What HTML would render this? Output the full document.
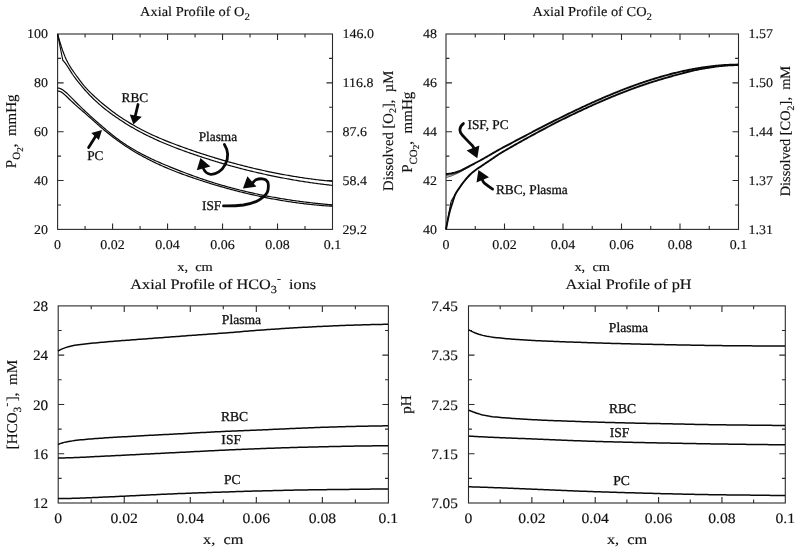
<!DOCTYPE html>
<html lang="en">
<head>
<meta charset="utf-8">
<title>Axial Profiles</title>
<style>
html,body{margin:0;padding:0;background:#fff;}
body{width:800px;height:552px;overflow:hidden;}
svg{display:block;will-change:transform;filter:grayscale(1);}
svg text{font-family:"Liberation Serif","DejaVu Serif",serif;fill:#111;stroke:#111;stroke-width:0.15px;text-rendering:geometricPrecision;}
svg text.a{stroke-width:0.3px;}
</style>
</head>
<body>
<svg width="800" height="552" viewBox="0 0 800 552">
<rect x="0" y="0" width="800" height="552" fill="#ffffff"/>
<rect x="57.6" y="34" width="274.9" height="195.4" fill="none" stroke="#2a2a2a" stroke-width="1.1"/>
<path d="M85.09 229.4 v-3.4 M85.09 34 v3.4 M112.58 229.4 v-6 M112.58 34 v6 M140.07 229.4 v-3.4 M140.07 34 v3.4 M167.56 229.4 v-6 M167.56 34 v6 M195.05 229.4 v-3.4 M195.05 34 v3.4 M222.54 229.4 v-6 M222.54 34 v6 M250.03 229.4 v-3.4 M250.03 34 v3.4 M277.52 229.4 v-6 M277.52 34 v6 M305.01 229.4 v-3.4 M305.01 34 v3.4 M57.6 58.42 h3.4 M332.5 58.42 h-3.4 M57.6 82.85 h6 M332.5 82.85 h-6 M57.6 107.28 h3.4 M332.5 107.28 h-3.4 M57.6 131.7 h6 M332.5 131.7 h-6 M57.6 156.12 h3.4 M332.5 156.12 h-3.4 M57.6 180.55 h6 M332.5 180.55 h-6 M57.6 204.97 h3.4 M332.5 204.97 h-3.4" fill="none" stroke="#2a2a2a" stroke-width="1.1"/>
<text transform="translate(57.6 248.6) scale(1.05 1)" text-anchor="middle" font-size="13.3" >0</text>
<text transform="translate(112.58 248.6) scale(1.05 1)" text-anchor="middle" font-size="13.3" >0.02</text>
<text transform="translate(167.56 248.6) scale(1.05 1)" text-anchor="middle" font-size="13.3" >0.04</text>
<text transform="translate(222.54 248.6) scale(1.05 1)" text-anchor="middle" font-size="13.3" >0.06</text>
<text transform="translate(277.52 248.6) scale(1.05 1)" text-anchor="middle" font-size="13.3" >0.08</text>
<text transform="translate(332.5 248.6) scale(1.05 1)" text-anchor="middle" font-size="13.3" >0.1</text>
<text transform="translate(48 38.4) scale(1.05 1)" text-anchor="end" font-size="13.3" >100</text>
<text transform="translate(48 87.25) scale(1.05 1)" text-anchor="end" font-size="13.3" >80</text>
<text transform="translate(48 136.1) scale(1.05 1)" text-anchor="end" font-size="13.3" >60</text>
<text transform="translate(48 184.95) scale(1.05 1)" text-anchor="end" font-size="13.3" >40</text>
<text transform="translate(48 233.8) scale(1.05 1)" text-anchor="end" font-size="13.3" >20</text>
<text transform="translate(342.5 38.4) scale(1.05 1)" text-anchor="start" font-size="13.3" >146.0</text>
<text transform="translate(342.5 87.25) scale(1.05 1)" text-anchor="start" font-size="13.3" >116.8</text>
<text transform="translate(342.5 136.1) scale(1.05 1)" text-anchor="start" font-size="13.3" >87.6</text>
<text transform="translate(342.5 184.95) scale(1.05 1)" text-anchor="start" font-size="13.3" >58.4</text>
<text transform="translate(342.5 233.8) scale(1.05 1)" text-anchor="start" font-size="13.3" >29.2</text>
<text transform="translate(195 15.5) scale(1.06 1)" text-anchor="middle" font-size="13.6" >Axial Profile of O<tspan dy="4.2" font-size="10.2">2</tspan></text>
<text transform="translate(195 270.5) scale(1.125 1)" text-anchor="middle" font-size="12.8" >x,&#160; cm</text>
<text transform="translate(15.5 131.3) rotate(-90)" text-anchor="middle" font-size="15.0">P<tspan dy="4.6" font-size="11">O</tspan><tspan dy="2.6" font-size="9">2</tspan><tspan dy="-7.2">,&#160; mmHg</tspan></text>
<text transform="translate(392.8 130.8) rotate(-90)" text-anchor="middle" font-size="14.7">Dissolved [O<tspan dy="3.5" font-size="10">2</tspan><tspan dy="-3.5">],&#160; &#181;M</tspan></text>
<path d="M57.6 33.86 L58.85 38.46 L60.11 42.76 L61.36 46.75 L62.62 50.43 L63.87 53.81 L65.13 56.89 L66.38 59.67 L67.63 62.19 L68.89 64.49 L70.14 66.61 L71.4 68.59 L72.65 70.46 L73.91 72.25 L75.16 74 L76.42 75.74 L77.67 77.46 L78.92 79.15 L80.18 80.81 L81.43 82.44 L82.69 84.02 L83.94 85.56 L85.2 87.04 L86.45 88.46 L87.7 89.81 L88.96 91.12 L90.21 92.38 L91.47 93.6 L92.72 94.8 L93.98 95.98 L95.23 97.14 L96.48 98.28 L97.74 99.41 L98.99 100.52 L100.25 101.62 L101.5 102.69 L102.76 103.75 L104.01 104.8 L105.26 105.83 L106.52 106.84 L107.77 107.84 L109.03 108.82 L110.28 109.78 L111.54 110.74 L112.79 111.67 L114.05 112.6 L115.3 113.5 L116.55 114.4 L117.81 115.28 L119.06 116.15 L120.32 117 L121.57 117.84 L122.83 118.67 L124.08 119.48 L125.33 120.28 L126.59 121.07 L127.84 121.85 L129.1 122.62 L130.35 123.37 L131.61 124.11 L132.86 124.85 L134.11 125.57 L135.37 126.27 L136.62 126.97 L137.88 127.66 L139.13 128.34 L140.39 129.01 L141.64 129.67 L142.89 130.31 L144.15 130.95 L145.4 131.58 L146.66 132.2 L147.91 132.82 L149.17 133.42 L150.42 134.01 L151.68 134.6 L152.93 135.18 L154.18 135.75 L155.44 136.32 L156.69 136.87 L157.95 137.42 L159.2 137.97 L160.46 138.5 L161.71 139.03 L162.96 139.56 L164.22 140.07 L165.47 140.59 L166.73 141.09 L167.98 141.59 L169.24 142.09 L170.49 142.58 L171.74 143.06 L173 143.55 L174.25 144.02 L175.51 144.5 L176.76 144.96 L178.02 145.43 L179.27 145.89 L180.53 146.35 L181.78 146.81 L183.03 147.26 L184.29 147.71 L185.54 148.15 L186.8 148.6 L188.05 149.04 L189.31 149.48 L190.56 149.92 L191.81 150.35 L193.07 150.78 L194.32 151.21 L195.58 151.63 L196.83 152.06 L198.09 152.48 L199.34 152.89 L200.59 153.31 L201.85 153.72 L203.1 154.13 L204.36 154.53 L205.61 154.94 L206.87 155.34 L208.12 155.74 L209.37 156.13 L210.63 156.52 L211.88 156.91 L213.14 157.3 L214.39 157.68 L215.65 158.07 L216.9 158.44 L218.16 158.82 L219.41 159.19 L220.66 159.56 L221.92 159.93 L223.17 160.3 L224.43 160.66 L225.68 161.02 L226.94 161.37 L228.19 161.73 L229.44 162.08 L230.7 162.43 L231.95 162.77 L233.21 163.11 L234.46 163.45 L235.72 163.79 L236.97 164.13 L238.22 164.46 L239.48 164.79 L240.73 165.11 L241.99 165.44 L243.24 165.76 L244.5 166.08 L245.75 166.39 L247.01 166.7 L248.26 167.01 L249.51 167.32 L250.77 167.62 L252.02 167.92 L253.28 168.22 L254.53 168.52 L255.79 168.81 L257.04 169.1 L258.29 169.39 L259.55 169.67 L260.8 169.95 L262.06 170.23 L263.31 170.51 L264.57 170.78 L265.82 171.05 L267.07 171.32 L268.33 171.59 L269.58 171.85 L270.84 172.11 L272.09 172.36 L273.35 172.62 L274.6 172.87 L275.85 173.12 L277.11 173.36 L278.36 173.61 L279.62 173.85 L280.87 174.08 L282.13 174.32 L283.38 174.55 L284.64 174.78 L285.89 175 L287.14 175.23 L288.4 175.45 L289.65 175.66 L290.91 175.88 L292.16 176.09 L293.42 176.3 L294.67 176.51 L295.92 176.71 L297.18 176.91 L298.43 177.11 L299.69 177.3 L300.94 177.5 L302.2 177.68 L303.45 177.87 L304.7 178.06 L305.96 178.24 L307.21 178.41 L308.47 178.59 L309.72 178.76 L310.98 178.93 L312.23 179.1 L313.48 179.26 L314.74 179.42 L315.99 179.58 L317.25 179.74 L318.5 179.89 L319.76 180.04 L321.01 180.19 L322.27 180.33 L323.52 180.47 L324.77 180.61 L326.03 180.75 L327.28 180.88 L328.54 181.01 L329.79 181.14 L331.05 181.26 L332.3 181.38" fill="none" stroke="#0a0a0a" stroke-width="1.2" stroke-linejoin="round"/>
<path d="M57.6 34 L62.8 60.25 L64.03 61.6 L65.26 63.16 L66.49 64.9 L67.72 66.76 L68.95 68.69 L70.18 70.65 L71.41 72.59 L72.64 74.47 L73.88 76.25 L75.11 77.94 L76.34 79.56 L77.57 81.14 L78.8 82.69 L80.03 84.2 L81.26 85.69 L82.49 87.15 L83.72 88.58 L84.95 89.98 L86.18 91.35 L87.41 92.69 L88.64 94 L89.87 95.29 L91.1 96.54 L92.33 97.76 L93.56 98.96 L94.8 100.14 L96.03 101.28 L97.26 102.41 L98.49 103.51 L99.72 104.59 L100.95 105.64 L102.18 106.68 L103.41 107.69 L104.64 108.69 L105.87 109.67 L107.1 110.63 L108.33 111.57 L109.56 112.5 L110.79 113.41 L112.02 114.31 L113.25 115.19 L114.48 116.06 L115.72 116.92 L116.95 117.77 L118.18 118.61 L119.41 119.43 L120.64 120.25 L121.87 121.05 L123.1 121.85 L124.33 122.63 L125.56 123.4 L126.79 124.17 L128.02 124.92 L129.25 125.66 L130.48 126.4 L131.71 127.12 L132.94 127.83 L134.17 128.54 L135.41 129.23 L136.64 129.92 L137.87 130.6 L139.1 131.26 L140.33 131.92 L141.56 132.58 L142.79 133.22 L144.02 133.85 L145.25 134.48 L146.48 135.1 L147.71 135.71 L148.94 136.31 L150.17 136.91 L151.4 137.5 L152.63 138.08 L153.86 138.66 L155.09 139.22 L156.33 139.78 L157.56 140.34 L158.79 140.89 L160.02 141.43 L161.25 141.96 L162.48 142.49 L163.71 143.01 L164.94 143.53 L166.17 144.04 L167.4 144.55 L168.63 145.05 L169.86 145.55 L171.09 146.04 L172.32 146.52 L173.55 147 L174.78 147.48 L176.01 147.95 L177.25 148.42 L178.48 148.88 L179.71 149.34 L180.94 149.8 L182.17 150.25 L183.4 150.7 L184.63 151.14 L185.86 151.59 L187.09 152.02 L188.32 152.46 L189.55 152.89 L190.78 153.32 L192.01 153.75 L193.24 154.17 L194.47 154.59 L195.7 155.01 L196.93 155.43 L198.17 155.84 L199.4 156.25 L200.63 156.66 L201.86 157.07 L203.09 157.47 L204.32 157.87 L205.55 158.27 L206.78 158.66 L208.01 159.05 L209.24 159.44 L210.47 159.83 L211.7 160.21 L212.93 160.59 L214.16 160.97 L215.39 161.35 L216.62 161.72 L217.85 162.09 L219.09 162.46 L220.32 162.83 L221.55 163.19 L222.78 163.55 L224.01 163.91 L225.24 164.26 L226.47 164.61 L227.7 164.96 L228.93 165.31 L230.16 165.66 L231.39 166 L232.62 166.34 L233.85 166.67 L235.08 167.01 L236.31 167.34 L237.54 167.67 L238.77 167.99 L240.01 168.32 L241.24 168.64 L242.47 168.96 L243.7 169.27 L244.93 169.59 L246.16 169.9 L247.39 170.21 L248.62 170.51 L249.85 170.81 L251.08 171.11 L252.31 171.41 L253.54 171.71 L254.77 172 L256 172.29 L257.23 172.58 L258.46 172.86 L259.69 173.14 L260.93 173.42 L262.16 173.7 L263.39 173.98 L264.62 174.25 L265.85 174.52 L267.08 174.79 L268.31 175.05 L269.54 175.31 L270.77 175.57 L272 175.83 L273.23 176.08 L274.46 176.34 L275.69 176.58 L276.92 176.83 L278.15 177.08 L279.38 177.32 L280.62 177.56 L281.85 177.79 L283.08 178.03 L284.31 178.26 L285.54 178.49 L286.77 178.72 L288 178.94 L289.23 179.16 L290.46 179.38 L291.69 179.6 L292.92 179.81 L294.15 180.02 L295.38 180.23 L296.61 180.44 L297.84 180.65 L299.07 180.85 L300.3 181.05 L301.54 181.24 L302.77 181.44 L304 181.63 L305.23 181.82 L306.46 182.01 L307.69 182.19 L308.92 182.37 L310.15 182.55 L311.38 182.73 L312.61 182.91 L313.84 183.08 L315.07 183.25 L316.3 183.42 L317.53 183.58 L318.76 183.74 L319.99 183.9 L321.22 184.06 L322.46 184.22 L323.69 184.37 L324.92 184.52 L326.15 184.67 L327.38 184.81 L328.61 184.96 L329.84 185.1 L331.07 185.24 L332.3 185.37" fill="none" stroke="#0a0a0a" stroke-width="1.2" stroke-linejoin="round"/>
<path d="M57.6 87.97 L58.85 88.17 L60.11 88.55 L61.36 89.12 L62.62 89.84 L63.87 90.69 L65.13 91.67 L66.38 92.74 L67.63 93.89 L68.89 95.1 L70.14 96.36 L71.4 97.64 L72.65 98.92 L73.91 100.2 L75.16 101.46 L76.42 102.71 L77.67 103.95 L78.92 105.18 L80.18 106.4 L81.43 107.61 L82.69 108.81 L83.94 110.01 L85.2 111.19 L86.45 112.36 L87.7 113.52 L88.96 114.68 L90.21 115.82 L91.47 116.96 L92.72 118.09 L93.98 119.22 L95.23 120.34 L96.48 121.45 L97.74 122.55 L98.99 123.65 L100.25 124.74 L101.5 125.82 L102.76 126.9 L104.01 127.98 L105.26 129.05 L106.52 130.11 L107.77 131.16 L109.03 132.2 L110.28 133.23 L111.54 134.24 L112.79 135.24 L114.05 136.23 L115.3 137.2 L116.55 138.15 L117.81 139.08 L119.06 140 L120.32 140.9 L121.57 141.78 L122.83 142.65 L124.08 143.5 L125.33 144.33 L126.59 145.15 L127.84 145.96 L129.1 146.75 L130.35 147.53 L131.61 148.29 L132.86 149.05 L134.11 149.78 L135.37 150.51 L136.62 151.22 L137.88 151.92 L139.13 152.61 L140.39 153.29 L141.64 153.96 L142.89 154.62 L144.15 155.26 L145.4 155.9 L146.66 156.53 L147.91 157.15 L149.17 157.76 L150.42 158.36 L151.68 158.95 L152.93 159.53 L154.18 160.11 L155.44 160.68 L156.69 161.25 L157.95 161.8 L159.2 162.35 L160.46 162.9 L161.71 163.44 L162.96 163.97 L164.22 164.51 L165.47 165.03 L166.73 165.55 L167.98 166.07 L169.24 166.59 L170.49 167.1 L171.74 167.61 L173 168.11 L174.25 168.62 L175.51 169.12 L176.76 169.62 L178.02 170.11 L179.27 170.6 L180.53 171.09 L181.78 171.58 L183.03 172.06 L184.29 172.54 L185.54 173.01 L186.8 173.48 L188.05 173.95 L189.31 174.42 L190.56 174.88 L191.81 175.34 L193.07 175.8 L194.32 176.25 L195.58 176.7 L196.83 177.14 L198.09 177.58 L199.34 178.02 L200.59 178.45 L201.85 178.88 L203.1 179.31 L204.36 179.73 L205.61 180.15 L206.87 180.56 L208.12 180.97 L209.37 181.38 L210.63 181.78 L211.88 182.18 L213.14 182.57 L214.39 182.96 L215.65 183.35 L216.9 183.73 L218.16 184.11 L219.41 184.48 L220.66 184.85 L221.92 185.22 L223.17 185.58 L224.43 185.94 L225.68 186.3 L226.94 186.65 L228.19 187 L229.44 187.34 L230.7 187.68 L231.95 188.02 L233.21 188.35 L234.46 188.68 L235.72 189.01 L236.97 189.33 L238.22 189.65 L239.48 189.97 L240.73 190.28 L241.99 190.59 L243.24 190.89 L244.5 191.2 L245.75 191.49 L247.01 191.79 L248.26 192.08 L249.51 192.37 L250.77 192.65 L252.02 192.93 L253.28 193.21 L254.53 193.49 L255.79 193.76 L257.04 194.03 L258.29 194.29 L259.55 194.55 L260.8 194.81 L262.06 195.07 L263.31 195.32 L264.57 195.57 L265.82 195.81 L267.07 196.05 L268.33 196.29 L269.58 196.53 L270.84 196.76 L272.09 197 L273.35 197.22 L274.6 197.45 L275.85 197.67 L277.11 197.89 L278.36 198.1 L279.62 198.32 L280.87 198.53 L282.13 198.73 L283.38 198.94 L284.64 199.14 L285.89 199.34 L287.14 199.53 L288.4 199.73 L289.65 199.92 L290.91 200.1 L292.16 200.29 L293.42 200.47 L294.67 200.65 L295.92 200.83 L297.18 201 L298.43 201.17 L299.69 201.34 L300.94 201.51 L302.2 201.67 L303.45 201.83 L304.7 201.99 L305.96 202.15 L307.21 202.3 L308.47 202.45 L309.72 202.6 L310.98 202.75 L312.23 202.89 L313.48 203.04 L314.74 203.18 L315.99 203.31 L317.25 203.45 L318.5 203.58 L319.76 203.71 L321.01 203.84 L322.27 203.97 L323.52 204.09 L324.77 204.21 L326.03 204.33 L327.28 204.45 L328.54 204.56 L329.79 204.68 L331.05 204.79 L332.3 204.89" fill="none" stroke="#0a0a0a" stroke-width="1.2" stroke-linejoin="round"/>
<path d="M57.6 91.19 L58.85 91.18 L60.11 91.51 L61.36 92.11 L62.62 92.94 L63.87 93.95 L65.13 95.09 L66.38 96.3 L67.63 97.53 L68.89 98.75 L70.14 99.95 L71.4 101.13 L72.65 102.3 L73.91 103.45 L75.16 104.59 L76.42 105.71 L77.67 106.83 L78.92 107.94 L80.18 109.04 L81.43 110.14 L82.69 111.23 L83.94 112.32 L85.2 113.41 L86.45 114.5 L87.7 115.6 L88.96 116.7 L90.21 117.8 L91.47 118.91 L92.72 120.03 L93.98 121.15 L95.23 122.27 L96.48 123.39 L97.74 124.5 L98.99 125.61 L100.25 126.71 L101.5 127.79 L102.76 128.87 L104.01 129.93 L105.26 130.98 L106.52 132.01 L107.77 133.03 L109.03 134.03 L110.28 135.02 L111.54 136 L112.79 136.97 L114.05 137.92 L115.3 138.85 L116.55 139.78 L117.81 140.69 L119.06 141.59 L120.32 142.47 L121.57 143.35 L122.83 144.21 L124.08 145.06 L125.33 145.9 L126.59 146.72 L127.84 147.54 L129.1 148.34 L130.35 149.13 L131.61 149.91 L132.86 150.68 L134.11 151.44 L135.37 152.19 L136.62 152.93 L137.88 153.66 L139.13 154.38 L140.39 155.08 L141.64 155.78 L142.89 156.47 L144.15 157.15 L145.4 157.82 L146.66 158.48 L147.91 159.13 L149.17 159.77 L150.42 160.4 L151.68 161.03 L152.93 161.64 L154.18 162.25 L155.44 162.85 L156.69 163.44 L157.95 164.03 L159.2 164.61 L160.46 165.17 L161.71 165.74 L162.96 166.29 L164.22 166.84 L165.47 167.38 L166.73 167.91 L167.98 168.44 L169.24 168.96 L170.49 169.48 L171.74 169.99 L173 170.49 L174.25 170.99 L175.51 171.48 L176.76 171.97 L178.02 172.45 L179.27 172.92 L180.53 173.39 L181.78 173.86 L183.03 174.32 L184.29 174.78 L185.54 175.23 L186.8 175.68 L188.05 176.12 L189.31 176.56 L190.56 177 L191.81 177.44 L193.07 177.87 L194.32 178.29 L195.58 178.72 L196.83 179.14 L198.09 179.55 L199.34 179.97 L200.59 180.38 L201.85 180.79 L203.1 181.2 L204.36 181.6 L205.61 182 L206.87 182.4 L208.12 182.79 L209.37 183.18 L210.63 183.57 L211.88 183.95 L213.14 184.33 L214.39 184.71 L215.65 185.09 L216.9 185.46 L218.16 185.83 L219.41 186.2 L220.66 186.56 L221.92 186.92 L223.17 187.28 L224.43 187.63 L225.68 187.98 L226.94 188.33 L228.19 188.68 L229.44 189.02 L230.7 189.36 L231.95 189.69 L233.21 190.02 L234.46 190.35 L235.72 190.68 L236.97 191 L238.22 191.32 L239.48 191.64 L240.73 191.96 L241.99 192.27 L243.24 192.57 L244.5 192.88 L245.75 193.18 L247.01 193.48 L248.26 193.78 L249.51 194.07 L250.77 194.36 L252.02 194.64 L253.28 194.93 L254.53 195.2 L255.79 195.48 L257.04 195.75 L258.29 196.03 L259.55 196.29 L260.8 196.56 L262.06 196.82 L263.31 197.07 L264.57 197.33 L265.82 197.58 L267.07 197.83 L268.33 198.07 L269.58 198.32 L270.84 198.55 L272.09 198.79 L273.35 199.02 L274.6 199.25 L275.85 199.48 L277.11 199.7 L278.36 199.92 L279.62 200.13 L280.87 200.35 L282.13 200.56 L283.38 200.76 L284.64 200.97 L285.89 201.17 L287.14 201.36 L288.4 201.56 L289.65 201.75 L290.91 201.93 L292.16 202.12 L293.42 202.3 L294.67 202.48 L295.92 202.65 L297.18 202.82 L298.43 202.99 L299.69 203.15 L300.94 203.31 L302.2 203.47 L303.45 203.63 L304.7 203.78 L305.96 203.93 L307.21 204.07 L308.47 204.21 L309.72 204.35 L310.98 204.48 L312.23 204.62 L313.48 204.74 L314.74 204.87 L315.99 204.99 L317.25 205.11 L318.5 205.22 L319.76 205.34 L321.01 205.44 L322.27 205.55 L323.52 205.65 L324.77 205.75 L326.03 205.84 L327.28 205.93 L328.54 206.02 L329.79 206.11 L331.05 206.19 L332.3 206.27" fill="none" stroke="#0a0a0a" stroke-width="1.2" stroke-linejoin="round"/>
<text x="121.6" y="102.1" text-anchor="start" font-size="13.3" class="a">RBC</text>
<path d="M138 104.5 L135 117" fill="none" stroke="#0a0a0a" stroke-width="2.8" stroke-linecap="round"/>
<polygon points="133.4,124.6 129.8,114.6 141.8,116.8" fill="#0a0a0a"/>
<text x="87.2" y="159.7" text-anchor="start" font-size="13.3" class="a">PC</text>
<path d="M88.6 147.5 L96 135.8" fill="none" stroke="#0a0a0a" stroke-width="2.8" stroke-linecap="round"/>
<polygon points="102,130 91.3,133.1 98.9,139.9" fill="#0a0a0a"/>
<text x="198.7" y="141.4" text-anchor="start" font-size="13.3" class="a">Plasma</text>
<path d="M224.4 144.5 C228.5 151 228.6 158 225.3 164.4 C222 171 216 174.6 210.8 174.3 C207 174 205 172 203.6 169" fill="none" stroke="#0a0a0a" stroke-width="2.8" stroke-linecap="round"/>
<polygon points="200.4,157.9 196.8,170.3 210.4,166.4" fill="#0a0a0a"/>
<text x="202" y="210" text-anchor="start" font-size="13.3" class="a">ISF</text>
<g transform="translate(0 0.8)">
<path d="M223.5 205.1 C231 205.3 237 205 243.4 204.2 C250 203.2 255.5 201.5 259.7 198.8 C264.5 195.6 267.4 193 267.9 189.7 C268.6 186 268.6 184 267.9 181.6 C267 179.4 265 178.2 262.4 178 C260 177.8 257.6 178.2 256 178.9 C254.4 180 253.2 181.3 252.5 182.5" fill="none" stroke="#0a0a0a" stroke-width="2.8" stroke-linecap="round"/>
</g>
<polygon points="242.9,188.6 247.4,176.2 256.4,186.6" fill="#0a0a0a"/>
<rect x="446" y="34" width="292.5" height="195.4" fill="none" stroke="#2a2a2a" stroke-width="1.1"/>
<path d="M475.25 229.4 v-3.4 M475.25 34 v3.4 M504.5 229.4 v-6 M504.5 34 v6 M533.75 229.4 v-3.4 M533.75 34 v3.4 M563 229.4 v-6 M563 34 v6 M592.25 229.4 v-3.4 M592.25 34 v3.4 M621.5 229.4 v-6 M621.5 34 v6 M650.75 229.4 v-3.4 M650.75 34 v3.4 M680 229.4 v-6 M680 34 v6 M709.25 229.4 v-3.4 M709.25 34 v3.4 M446 58.42 h3.4 M738.5 58.42 h-3.4 M446 82.85 h6 M738.5 82.85 h-6 M446 107.28 h3.4 M738.5 107.28 h-3.4 M446 131.7 h6 M738.5 131.7 h-6 M446 156.12 h3.4 M738.5 156.12 h-3.4 M446 180.55 h6 M738.5 180.55 h-6 M446 204.97 h3.4 M738.5 204.97 h-3.4" fill="none" stroke="#2a2a2a" stroke-width="1.1"/>
<text transform="translate(446 248.6) scale(1.05 1)" text-anchor="middle" font-size="13.3" >0</text>
<text transform="translate(504.5 248.6) scale(1.05 1)" text-anchor="middle" font-size="13.3" >0.02</text>
<text transform="translate(563 248.6) scale(1.05 1)" text-anchor="middle" font-size="13.3" >0.04</text>
<text transform="translate(621.5 248.6) scale(1.05 1)" text-anchor="middle" font-size="13.3" >0.06</text>
<text transform="translate(680 248.6) scale(1.05 1)" text-anchor="middle" font-size="13.3" >0.08</text>
<text transform="translate(738.5 248.6) scale(1.05 1)" text-anchor="middle" font-size="13.3" >0.1</text>
<text transform="translate(436.9 38.4) scale(1.05 1)" text-anchor="end" font-size="13.3" >48</text>
<text transform="translate(436.9 87.25) scale(1.05 1)" text-anchor="end" font-size="13.3" >46</text>
<text transform="translate(436.9 136.1) scale(1.05 1)" text-anchor="end" font-size="13.3" >44</text>
<text transform="translate(436.9 184.95) scale(1.05 1)" text-anchor="end" font-size="13.3" >42</text>
<text transform="translate(436.9 233.8) scale(1.05 1)" text-anchor="end" font-size="13.3" >40</text>
<text transform="translate(748.5 38.4) scale(1.05 1)" text-anchor="start" font-size="13.3" >1.57</text>
<text transform="translate(748.5 87.25) scale(1.05 1)" text-anchor="start" font-size="13.3" >1.50</text>
<text transform="translate(748.5 136.1) scale(1.05 1)" text-anchor="start" font-size="13.3" >1.44</text>
<text transform="translate(748.5 184.95) scale(1.05 1)" text-anchor="start" font-size="13.3" >1.37</text>
<text transform="translate(748.5 233.8) scale(1.05 1)" text-anchor="start" font-size="13.3" >1.31</text>
<text transform="translate(592.2 15.5) scale(1.06 1)" text-anchor="middle" font-size="13.6" >Axial Profile of CO<tspan dy="4.2" font-size="10.2">2</tspan></text>
<text transform="translate(592.2 270.5) scale(1.125 1)" text-anchor="middle" font-size="12.8" >x,&#160; cm</text>
<text transform="translate(412.2 132.3) rotate(-90)" text-anchor="middle" font-size="15.0">P<tspan dy="4.6" font-size="11">CO</tspan><tspan dy="2.6" font-size="9">2</tspan><tspan dy="-7.2">,&#160; mmHg</tspan></text>
<text transform="translate(790.3 131.1) rotate(-90)" text-anchor="middle" font-size="14.4">Dissolved [CO<tspan dy="3.5" font-size="10">2</tspan><tspan dy="-3.5">],&#160; mM</tspan></text>
<path d="M446 174 L446.98 173.94 L447.95 173.85 L448.93 173.74 L449.91 173.61 L450.89 173.46 L451.86 173.27 L452.84 173.05 L453.82 172.81 L454.8 172.55 L455.77 172.28 L456.75 171.98 L457.73 171.65 L458.7 171.3 L459.68 170.93 L460.66 170.53 L461.64 170.08 L462.61 169.6 L463.59 169.11 L464.57 168.61 L465.55 168.13 L466.52 167.65 L467.5 167.17 L468.48 166.68 L469.45 166.18 L470.43 165.67 L471.41 165.15 L472.39 164.62 L473.36 164.08 L474.34 163.55 L475.32 163.03 L476.29 162.52 L477.27 162.02 L478.25 161.52 L479.23 161 L480.2 160.48 L481.18 159.94 L482.16 159.39 L483.14 158.84 L484.11 158.28 L485.09 157.71 L486.07 157.15 L487.04 156.58 L488.02 156.01 L489 155.45 L489.98 154.88 L490.95 154.32 L491.93 153.76 L492.91 153.19 L493.89 152.63 L494.86 152.06 L495.84 151.5 L496.82 150.93 L497.79 150.38 L498.77 149.83 L499.75 149.28 L500.73 148.74 L501.7 148.21 L502.68 147.69 L503.66 147.17 L504.64 146.65 L505.61 146.13 L506.59 145.62 L507.57 145.1 L508.54 144.59 L509.52 144.07 L510.5 143.55 L511.48 143.04 L512.45 142.52 L513.43 142 L514.41 141.48 L515.39 140.96 L516.36 140.45 L517.34 139.93 L518.32 139.41 L519.29 138.89 L520.27 138.38 L521.25 137.86 L522.23 137.35 L523.2 136.83 L524.18 136.32 L525.16 135.81 L526.14 135.29 L527.11 134.78 L528.09 134.27 L529.07 133.76 L530.04 133.24 L531.02 132.73 L532 132.22 L532.98 131.72 L533.95 131.21 L534.93 130.7 L535.91 130.19 L536.88 129.68 L537.86 129.18 L538.84 128.67 L539.82 128.17 L540.79 127.67 L541.77 127.16 L542.75 126.66 L543.73 126.16 L544.7 125.66 L545.68 125.16 L546.66 124.66 L547.63 124.16 L548.61 123.66 L549.59 123.17 L550.57 122.67 L551.54 122.18 L552.52 121.68 L553.5 121.19 L554.48 120.7 L555.45 120.21 L556.43 119.72 L557.41 119.23 L558.38 118.74 L559.36 118.26 L560.34 117.77 L561.32 117.29 L562.29 116.81 L563.27 116.32 L564.25 115.84 L565.23 115.36 L566.2 114.88 L567.18 114.41 L568.16 113.93 L569.13 113.46 L570.11 112.98 L571.09 112.51 L572.07 112.04 L573.04 111.57 L574.02 111.1 L575 110.63 L575.98 110.17 L576.95 109.7 L577.93 109.24 L578.91 108.78 L579.88 108.32 L580.86 107.86 L581.84 107.4 L582.82 106.95 L583.79 106.49 L584.77 106.04 L585.75 105.59 L586.73 105.14 L587.7 104.69 L588.68 104.24 L589.66 103.8 L590.63 103.36 L591.61 102.91 L592.59 102.47 L593.57 102.04 L594.54 101.6 L595.52 101.16 L596.5 100.73 L597.47 100.3 L598.45 99.87 L599.43 99.44 L600.41 99.01 L601.38 98.59 L602.36 98.17 L603.34 97.74 L604.32 97.33 L605.29 96.91 L606.27 96.49 L607.25 96.08 L608.22 95.67 L609.2 95.26 L610.18 94.85 L611.16 94.44 L612.13 94.04 L613.11 93.64 L614.09 93.24 L615.07 92.84 L616.04 92.44 L617.02 92.05 L618 91.66 L618.97 91.27 L619.95 90.88 L620.93 90.49 L621.91 90.11 L622.88 89.73 L623.86 89.35 L624.84 88.97 L625.82 88.6 L626.79 88.23 L627.77 87.86 L628.75 87.49 L629.72 87.12 L630.7 86.76 L631.68 86.4 L632.66 86.04 L633.63 85.68 L634.61 85.33 L635.59 84.98 L636.57 84.63 L637.54 84.28 L638.52 83.94 L639.5 83.59 L640.47 83.25 L641.45 82.92 L642.43 82.58 L643.41 82.25 L644.38 81.92 L645.36 81.59 L646.34 81.27 L647.32 80.95 L648.29 80.63 L649.27 80.31 L650.25 80 L651.22 79.69 L652.2 79.38 L653.18 79.07 L654.16 78.77 L655.13 78.47 L656.11 78.17 L657.09 77.87 L658.06 77.58 L659.04 77.29 L660.02 77 L661 76.72 L661.97 76.44 L662.95 76.16 L663.93 75.88 L664.91 75.61 L665.88 75.34 L666.86 75.07 L667.84 74.81 L668.81 74.55 L669.79 74.29 L670.77 74.04 L671.75 73.78 L672.72 73.53 L673.7 73.29 L674.68 73.04 L675.66 72.8 L676.63 72.57 L677.61 72.33 L678.59 72.1 L679.56 71.87 L680.54 71.65 L681.52 71.43 L682.5 71.21 L683.47 71 L684.45 70.78 L685.43 70.57 L686.41 70.37 L687.38 70.17 L688.36 69.97 L689.34 69.77 L690.31 69.58 L691.29 69.39 L692.27 69.21 L693.25 69.02 L694.22 68.84 L695.2 68.67 L696.18 68.5 L697.16 68.33 L698.13 68.16 L699.11 68 L700.09 67.84 L701.06 67.69 L702.04 67.54 L703.02 67.39 L704 67.25 L704.97 67.1 L705.95 66.97 L706.93 66.83 L707.91 66.7 L708.88 66.58 L709.86 66.45 L710.84 66.34 L711.81 66.22 L712.79 66.11 L713.77 66 L714.75 65.9 L715.72 65.79 L716.7 65.7 L717.68 65.6 L718.65 65.51 L719.63 65.43 L720.61 65.35 L721.59 65.28 L722.56 65.2 L723.54 65.13 L724.52 65.06 L725.5 65 L726.47 64.94 L727.45 64.88 L728.43 64.83 L729.4 64.79 L730.38 64.75 L731.36 64.72 L732.34 64.69 L733.31 64.66 L734.29 64.63 L735.27 64.61 L736.25 64.59 L737.22 64.57 L738.2 64.56" fill="none" stroke="#0a0a0a" stroke-width="1.9" stroke-linejoin="round" />
<path d="M446 175.4 L446.15 175.39 L446.3 175.38 L446.45 175.37 L446.6 175.36 L446.75 175.35 L446.91 175.33 L447.06 175.32 L447.21 175.3 L447.36 175.28 L447.51 175.27 L447.66 175.25 L447.81 175.23 L447.96 175.21 L448.11 175.19 L448.26 175.17 L448.42 175.15 L448.57 175.13 L448.72 175.11 L448.87 175.08 L449.02 175.06 L449.17 175.04 L449.32 175.01 L449.47 174.99 L449.62 174.96 L449.77 174.94 L449.92 174.91 L450.08 174.89 L450.23 174.86 L450.38 174.83 L450.53 174.8 L450.68 174.77 L450.83 174.74 L450.98 174.7 L451.13 174.67 L451.28 174.63 L451.43 174.59 L451.58 174.55 L451.74 174.51 L451.89 174.47 L452.04 174.43 L452.19 174.39 L452.34 174.35 L452.49 174.3 L452.64 174.26 L452.79 174.21 L452.94 174.17 L453.09 174.12 L453.25 174.07 L453.4 174.02 L453.55 173.98 L453.7 173.93 L453.85 173.88 L454 173.83 L454.15 173.78 L454.3 173.73 L454.45 173.68 L454.6 173.63 L454.75 173.58 L454.91 173.53 L455.06 173.48 L455.21 173.43 L455.36 173.38 L455.51 173.33 L455.66 173.27 L455.81 173.22 L455.96 173.17 L456.11 173.11 L456.26 173.06 L456.42 173 L456.57 172.94 L456.72 172.89 L456.87 172.83 L457.02 172.77 L457.17 172.71 L457.32 172.65 L457.47 172.59 L457.62 172.53 L457.77 172.47 L457.92 172.4 L458.08 172.34 L458.23 172.28 L458.38 172.21 L458.53 172.15 L458.68 172.08 L458.83 172.02 L458.98 171.95 L459.13 171.89 L459.28 171.82 L459.43 171.75 L459.58 171.69 L459.74 171.62 L459.89 171.55 L460.04 171.48 L460.19 171.41 L460.34 171.34 L460.49 171.27 L460.64 171.2 L460.79 171.13 L460.94 171.05 L461.09 170.98 L461.25 170.9 L461.4 170.83 L461.55 170.75 L461.7 170.67 L461.85 170.59 L462 170.51 L462.15 170.43 L462.3 170.35 L462.45 170.27 L462.6 170.19 L462.75 170.11 L462.91 170.03 L463.06 169.95 L463.21 169.87 L463.36 169.79 L463.51 169.7 L463.66 169.62 L463.81 169.54 L463.96 169.46 L464.11 169.38 L464.26 169.29 L464.42 169.21 L464.57 169.13 L464.72 169.05 L464.87 168.97 L465.02 168.89 L465.17 168.81 L465.32 168.73 L465.47 168.65 L465.62 168.57 L465.77 168.49 L465.92 168.41 L466.08 168.33 L466.23 168.25 L466.38 168.17 L466.53 168.09 L466.68 168 L466.83 167.92 L466.98 167.84 L467.13 167.76 L467.28 167.68 L467.43 167.6 L467.58 167.52 L467.74 167.44 L467.89 167.35 L468.04 167.27 L468.19 167.19 L468.34 167.11 L468.49 167.03 L468.64 166.94 L468.79 166.86 L468.94 166.78 L469.09 166.7 L469.25 166.61 L469.4 166.53 L469.55 166.45 L469.7 166.37 L469.85 166.28 L470 166.2" fill="none" stroke="#0a0a0a" stroke-width="0.9" stroke-linejoin="round" />
<path d="M446 177.4 L446.15 177.37 L446.3 177.34 L446.45 177.31 L446.6 177.28 L446.75 177.25 L446.91 177.22 L447.06 177.19 L447.21 177.15 L447.36 177.12 L447.51 177.08 L447.66 177.04 L447.81 177.01 L447.96 176.97 L448.11 176.93 L448.26 176.89 L448.42 176.85 L448.57 176.81 L448.72 176.77 L448.87 176.73 L449.02 176.69 L449.17 176.65 L449.32 176.6 L449.47 176.56 L449.62 176.51 L449.77 176.47 L449.92 176.42 L450.08 176.38 L450.23 176.33 L450.38 176.28 L450.53 176.23 L450.68 176.18 L450.83 176.13 L450.98 176.07 L451.13 176.02 L451.28 175.96 L451.43 175.91 L451.58 175.85 L451.74 175.79 L451.89 175.73 L452.04 175.67 L452.19 175.61 L452.34 175.55 L452.49 175.49 L452.64 175.42 L452.79 175.36 L452.94 175.3 L453.09 175.23 L453.25 175.17 L453.4 175.1 L453.55 175.04 L453.7 174.97 L453.85 174.9 L454 174.84 L454.15 174.77 L454.3 174.71 L454.45 174.64 L454.6 174.57 L454.75 174.51 L454.91 174.44 L455.06 174.38 L455.21 174.31 L455.36 174.24 L455.51 174.18 L455.66 174.11 L455.81 174.04 L455.96 173.97 L456.11 173.9 L456.26 173.83 L456.42 173.76 L456.57 173.69 L456.72 173.62 L456.87 173.55 L457.02 173.48 L457.17 173.41 L457.32 173.34 L457.47 173.26 L457.62 173.19 L457.77 173.12 L457.92 173.04 L458.08 172.97 L458.23 172.9 L458.38 172.82 L458.53 172.75 L458.68 172.67 L458.83 172.6 L458.98 172.52 L459.13 172.44 L459.28 172.37 L459.43 172.29 L459.58 172.21 L459.74 172.14 L459.89 172.06 L460.04 171.98 L460.19 171.9 L460.34 171.82 L460.49 171.74 L460.64 171.66 L460.79 171.58 L460.94 171.5 L461.09 171.42 L461.25 171.33 L461.4 171.25 L461.55 171.17 L461.7 171.08 L461.85 171 L462 170.91 L462.15 170.83 L462.3 170.74 L462.45 170.65 L462.6 170.57 L462.75 170.48 L462.91 170.39 L463.06 170.31 L463.21 170.22 L463.36 170.13 L463.51 170.05 L463.66 169.96 L463.81 169.87 L463.96 169.79 L464.11 169.7 L464.26 169.62 L464.42 169.53 L464.57 169.44 L464.72 169.36 L464.87 169.27 L465.02 169.19 L465.17 169.1 L465.32 169.02 L465.47 168.94 L465.62 168.85 L465.77 168.77 L465.92 168.68 L466.08 168.6 L466.23 168.51 L466.38 168.43 L466.53 168.34 L466.68 168.26 L466.83 168.18 L466.98 168.09 L467.13 168.01 L467.28 167.92 L467.43 167.84 L467.58 167.75 L467.74 167.67 L467.89 167.58 L468.04 167.5 L468.19 167.41 L468.34 167.33 L468.49 167.25 L468.64 167.16 L468.79 167.08 L468.94 166.99 L469.09 166.91 L469.25 166.82 L469.4 166.74 L469.55 166.65 L469.7 166.57 L469.85 166.48 L470 166.4" fill="none" stroke="#0a0a0a" stroke-width="0.9" stroke-linejoin="round" />
<path d="M446 229.4 L446.98 224.07 L447.95 219.21 L448.93 214.79 L449.91 210.84 L450.89 207.46 L451.86 204.43 L452.84 201.49 L453.82 198.36 L454.8 195.48 L455.77 193.43 L456.75 191.72 L457.73 190.22 L458.7 188.84 L459.68 187.46 L460.66 186.04 L461.64 184.64 L462.61 183.29 L463.59 181.98 L464.57 180.73 L465.55 179.54 L466.52 178.4 L467.5 177.29 L468.48 176.24 L469.45 175.24 L470.43 174.29 L471.41 173.38 L472.39 172.52 L473.36 171.7 L474.34 170.91 L475.32 170.16 L476.29 169.46 L477.27 168.79 L478.25 168.15 L479.23 167.51 L480.2 166.85 L481.18 166.19 L482.16 165.53 L483.14 164.87 L484.11 164.22 L485.09 163.56 L486.07 162.91 L487.04 162.25 L488.02 161.6 L489 160.94 L489.98 160.29 L490.95 159.63 L491.93 158.96 L492.91 158.29 L493.89 157.61 L494.86 156.94 L495.84 156.27 L496.82 155.61 L497.79 154.96 L498.77 154.32 L499.75 153.7 L500.73 153.09 L501.7 152.5 L502.68 151.92 L503.66 151.34 L504.64 150.78 L505.61 150.22 L506.59 149.66 L507.57 149.11 L508.54 148.55 L509.52 147.99 L510.5 147.43 L511.48 146.87 L512.45 146.31 L513.43 145.75 L514.41 145.19 L515.39 144.63 L516.36 144.08 L517.34 143.52 L518.32 142.97 L519.29 142.42 L520.27 141.87 L521.25 141.32 L522.23 140.78 L523.2 140.23 L524.18 139.69 L525.16 139.15 L526.14 138.61 L527.11 138.07 L528.09 137.53 L529.07 137 L530.04 136.46 L531.02 135.93 L532 135.39 L532.98 134.86 L533.95 134.33 L534.93 133.8 L535.91 133.28 L536.88 132.75 L537.86 132.22 L538.84 131.7 L539.82 131.17 L540.79 130.65 L541.77 130.12 L542.75 129.6 L543.73 129.08 L544.7 128.56 L545.68 128.04 L546.66 127.52 L547.63 127 L548.61 126.49 L549.59 125.98 L550.57 125.47 L551.54 124.96 L552.52 124.45 L553.5 123.95 L554.48 123.44 L555.45 122.94 L556.43 122.44 L557.41 121.95 L558.38 121.45 L559.36 120.96 L560.34 120.47 L561.32 119.98 L562.29 119.5 L563.27 119.02 L564.25 118.54 L565.23 118.06 L566.2 117.58 L567.18 117.1 L568.16 116.63 L569.13 116.16 L570.11 115.68 L571.09 115.21 L572.07 114.74 L573.04 114.27 L574.02 113.8 L575 113.33 L575.98 112.87 L576.95 112.4 L577.93 111.94 L578.91 111.48 L579.88 111.02 L580.86 110.56 L581.84 110.1 L582.82 109.65 L583.79 109.19 L584.77 108.74 L585.75 108.29 L586.73 107.84 L587.7 107.39 L588.68 106.94 L589.66 106.5 L590.63 106.06 L591.61 105.61 L592.59 105.17 L593.57 104.74 L594.54 104.3 L595.52 103.86 L596.5 103.43 L597.47 103 L598.45 102.57 L599.43 102.14 L600.41 101.71 L601.38 101.29 L602.36 100.87 L603.34 100.44 L604.32 100.02 L605.29 99.61 L606.27 99.19 L607.25 98.78 L608.22 98.36 L609.2 97.95 L610.18 97.55 L611.16 97.14 L612.13 96.74 L613.11 96.33 L614.09 95.93 L615.07 95.53 L616.04 95.14 L617.02 94.74 L618 94.35 L618.97 93.96 L619.95 93.57 L620.93 93.18 L621.91 92.8 L622.88 92.42 L623.86 92.04 L624.84 91.66 L625.82 91.28 L626.79 90.91 L627.77 90.54 L628.75 90.17 L629.72 89.8 L630.7 89.44 L631.68 89.07 L632.66 88.71 L633.63 88.35 L634.61 88 L635.59 87.64 L636.57 87.29 L637.54 86.94 L638.52 86.6 L639.5 86.25 L640.47 85.91 L641.45 85.57 L642.43 85.24 L643.41 84.9 L644.38 84.57 L645.36 84.24 L646.34 83.91 L647.32 83.59 L648.29 83.26 L649.27 82.94 L650.25 82.63 L651.22 82.32 L652.2 82.01 L653.18 81.7 L654.16 81.39 L655.13 81.09 L656.11 80.79 L657.09 80.49 L658.06 80.19 L659.04 79.9 L660.02 79.6 L661 79.31 L661.97 79.02 L662.95 78.73 L663.93 78.44 L664.91 78.16 L665.88 77.87 L666.86 77.59 L667.84 77.31 L668.81 77.03 L669.79 76.76 L670.77 76.48 L671.75 76.21 L672.72 75.94 L673.7 75.67 L674.68 75.4 L675.66 75.14 L676.63 74.88 L677.61 74.61 L678.59 74.35 L679.56 74.09 L680.54 73.83 L681.52 73.57 L682.5 73.3 L683.47 73.04 L684.45 72.78 L685.43 72.52 L686.41 72.26 L687.38 72.01 L688.36 71.76 L689.34 71.53 L690.31 71.29 L691.29 71.06 L692.27 70.84 L693.25 70.62 L694.22 70.4 L695.2 70.19 L696.18 69.98 L697.16 69.77 L698.13 69.57 L699.11 69.38 L700.09 69.19 L701.06 69.01 L702.04 68.84 L703.02 68.67 L704 68.5 L704.97 68.33 L705.95 68.17 L706.93 68.02 L707.91 67.86 L708.88 67.71 L709.86 67.56 L710.84 67.41 L711.81 67.26 L712.79 67.11 L713.77 66.95 L714.75 66.81 L715.72 66.66 L716.7 66.53 L717.68 66.4 L718.65 66.28 L719.63 66.16 L720.61 66.06 L721.59 65.96 L722.56 65.87 L723.54 65.78 L724.52 65.69 L725.5 65.6 L726.47 65.53 L727.45 65.46 L728.43 65.39 L729.4 65.34 L730.38 65.3 L731.36 65.25 L732.34 65.21 L733.31 65.18 L734.29 65.14 L735.27 65.11 L736.25 65.09 L737.22 65.07 L738.2 65.06" fill="none" stroke="#0a0a0a" stroke-width="1.9" stroke-linejoin="round" />
<path d="M446 229.4 L451 201.5" fill="none" stroke="#0a0a0a" stroke-width="1.1" stroke-linejoin="round"/>
<path d="M451 201.5 L451.12 201.29 L451.24 201.08 L451.36 200.88 L451.48 200.67 L451.6 200.46 L451.72 200.26 L451.84 200.05 L451.96 199.85 L452.08 199.64 L452.19 199.44 L452.31 199.23 L452.43 199.03 L452.55 198.82 L452.67 198.62 L452.79 198.42 L452.91 198.22 L453.03 198.02 L453.15 197.81 L453.27 197.61 L453.39 197.41 L453.51 197.21 L453.63 197.02 L453.75 196.82 L453.87 196.62 L453.99 196.42 L454.11 196.22 L454.23 196.03 L454.35 195.83 L454.47 195.63 L454.58 195.44 L454.7 195.24 L454.82 195.04 L454.94 194.85 L455.06 194.65 L455.18 194.45 L455.3 194.26 L455.42 194.06 L455.54 193.87 L455.66 193.67 L455.78 193.48 L455.9 193.29 L456.02 193.09 L456.14 192.9 L456.26 192.71 L456.38 192.52 L456.5 192.33 L456.62 192.14 L456.74 191.95 L456.86 191.76 L456.97 191.57 L457.09 191.39 L457.21 191.2 L457.33 191.02 L457.45 190.83 L457.57 190.65 L457.69 190.47 L457.81 190.28 L457.93 190.1 L458.05 189.92 L458.17 189.75 L458.29 189.57 L458.41 189.39 L458.53 189.21 L458.65 189.03 L458.77 188.86 L458.89 188.68 L459.01 188.5 L459.13 188.33 L459.25 188.15 L459.36 187.97 L459.48 187.8 L459.6 187.63 L459.72 187.45 L459.84 187.28 L459.96 187.1 L460.08 186.93 L460.2 186.76 L460.32 186.59 L460.44 186.42 L460.56 186.25 L460.68 186.08 L460.8 185.91 L460.92 185.74 L461.04 185.57 L461.16 185.4 L461.28 185.23 L461.4 185.07 L461.52 184.9 L461.64 184.74 L461.75 184.57 L461.87 184.41 L461.99 184.24 L462.11 184.08 L462.23 183.92 L462.35 183.76 L462.47 183.59 L462.59 183.43 L462.71 183.27 L462.83 183.12 L462.95 182.96 L463.07 182.8 L463.19 182.64 L463.31 182.49 L463.43 182.33 L463.55 182.18 L463.67 182.02 L463.79 181.87 L463.91 181.72 L464.03 181.57 L464.14 181.42 L464.26 181.27 L464.38 181.12 L464.5 180.97 L464.62 180.82 L464.74 180.67 L464.86 180.52 L464.98 180.38 L465.1 180.23 L465.22 180.08 L465.34 179.94 L465.46 179.79 L465.58 179.65 L465.7 179.51 L465.82 179.36 L465.94 179.22 L466.06 179.08 L466.18 178.93 L466.3 178.79 L466.42 178.65 L466.53 178.51 L466.65 178.37 L466.77 178.23 L466.89 178.1 L467.01 177.96 L467.13 177.82 L467.25 177.68 L467.37 177.55 L467.49 177.41 L467.61 177.28 L467.73 177.14 L467.85 177.01 L467.97 176.87 L468.09 176.74 L468.21 176.61 L468.33 176.48 L468.45 176.35 L468.57 176.22 L468.69 176.09 L468.81 175.96 L468.92 175.83 L469.04 175.7 L469.16 175.57 L469.28 175.45 L469.4 175.32 L469.52 175.2 L469.64 175.07 L469.76 174.95 L469.88 174.82 L470 174.7" fill="none" stroke="#0a0a0a" stroke-width="1.1" stroke-linejoin="round" />
<text x="467.5" y="128.6" text-anchor="start" font-size="13.3" class="a">ISF, PC</text>
<path d="M463.4 123.6 C461.2 125.2 460 127.4 459.9 129.8 C459.8 132 460.8 133.6 462.4 135.2 C464 136.9 465.6 138.6 467 140.1 C468.8 142 470.6 143.8 472 145.2 C473 146.4 473.6 147.4 474 148.4" fill="none" stroke="#0a0a0a" stroke-width="2.8" stroke-linecap="round"/>
<polygon points="477.3,158.2 466.6,150.4 479.4,145.6" fill="#0a0a0a"/>
<text x="496" y="193.6" text-anchor="start" font-size="13.3" class="a">RBC, Plasma</text>
<path d="M492.6 189.1 C489.6 187.1 486.6 185 484.7 183.4 C483.5 182.3 482.9 181.2 482.5 180.2" fill="none" stroke="#0a0a0a" stroke-width="2.8" stroke-linecap="round"/>
<polygon points="478.4,169.9 476.5,182.6 489,177.3" fill="#0a0a0a"/>
<rect x="58.2" y="305.9" width="330.2" height="197.1" fill="none" stroke="#2a2a2a" stroke-width="1.1"/>
<path d="M91.22 503 v-3.4 M91.22 305.9 v3.4 M124.24 503 v-6 M124.24 305.9 v6 M157.26 503 v-3.4 M157.26 305.9 v3.4 M190.28 503 v-6 M190.28 305.9 v6 M223.3 503 v-3.4 M223.3 305.9 v3.4 M256.32 503 v-6 M256.32 305.9 v6 M289.34 503 v-3.4 M289.34 305.9 v3.4 M322.36 503 v-6 M322.36 305.9 v6 M355.38 503 v-3.4 M355.38 305.9 v3.4 M58.2 330.54 h3.4 M388.4 330.54 h-3.4 M58.2 355.17 h6 M388.4 355.17 h-6 M58.2 379.81 h3.4 M388.4 379.81 h-3.4 M58.2 404.45 h6 M388.4 404.45 h-6 M58.2 429.09 h3.4 M388.4 429.09 h-3.4 M58.2 453.73 h6 M388.4 453.73 h-6 M58.2 478.36 h3.4 M388.4 478.36 h-3.4" fill="none" stroke="#2a2a2a" stroke-width="1.1"/>
<text transform="translate(58.2 522.6) scale(1.09 1)" text-anchor="middle" font-size="14.4" >0</text>
<text transform="translate(124.24 522.6) scale(1.09 1)" text-anchor="middle" font-size="14.4" >0.02</text>
<text transform="translate(190.28 522.6) scale(1.09 1)" text-anchor="middle" font-size="14.4" >0.04</text>
<text transform="translate(256.32 522.6) scale(1.09 1)" text-anchor="middle" font-size="14.4" >0.06</text>
<text transform="translate(322.36 522.6) scale(1.09 1)" text-anchor="middle" font-size="14.4" >0.08</text>
<text transform="translate(388.4 522.6) scale(1.09 1)" text-anchor="middle" font-size="14.4" >0.1</text>
<text transform="translate(48.2 311.1) scale(1.05 1)" text-anchor="end" font-size="14.5" >28</text>
<text transform="translate(48.2 360.37) scale(1.05 1)" text-anchor="end" font-size="14.5" >24</text>
<text transform="translate(48.2 409.65) scale(1.05 1)" text-anchor="end" font-size="14.5" >20</text>
<text transform="translate(48.2 458.93) scale(1.05 1)" text-anchor="end" font-size="14.5" >16</text>
<text transform="translate(48.2 508.2) scale(1.05 1)" text-anchor="end" font-size="14.5" >12</text>
<text transform="translate(223.2 288.6) scale(1.13 1)" text-anchor="middle" font-size="14.4" >Axial Profile of HCO<tspan dy="4.4" font-size="10.8">3</tspan><tspan dy="-11.2" font-size="10.5">-</tspan><tspan dy="6.8">&#160; ions</tspan></text>
<text transform="translate(223.2 543.5) scale(1.155 1)" text-anchor="middle" font-size="14.1" >x,&#160; cm</text>
<text transform="translate(16.6 404.6) rotate(-90)" text-anchor="middle" font-size="15.0">[HCO<tspan dy="4.6" font-size="11.2">3</tspan><tspan dy="-11" font-size="11" dx="0.5">-</tspan><tspan dy="6.4" dx="1.5">],&#160; mM</tspan></text>
<path d="M58 351.1 L60.08 349.88 L62.15 348.9 L64.23 348.1 L66.3 347.4 L68.38 346.76 L70.45 346.2 L72.53 345.73 L74.6 345.33 L76.68 344.98 L78.75 344.67 L80.83 344.4 L82.91 344.15 L84.98 343.92 L87.06 343.71 L89.13 343.5 L91.21 343.31 L93.28 343.11 L95.36 342.91 L97.43 342.72 L99.51 342.52 L101.58 342.34 L103.66 342.15 L105.74 341.97 L107.81 341.79 L109.89 341.61 L111.96 341.43 L114.04 341.26 L116.11 341.09 L118.19 340.92 L120.26 340.76 L122.34 340.6 L124.42 340.44 L126.49 340.28 L128.57 340.13 L130.64 339.98 L132.72 339.83 L134.79 339.67 L136.87 339.52 L138.94 339.36 L141.02 339.2 L143.09 339.05 L145.17 338.89 L147.25 338.73 L149.32 338.58 L151.4 338.42 L153.47 338.26 L155.55 338.1 L157.62 337.95 L159.7 337.79 L161.77 337.63 L163.85 337.48 L165.92 337.32 L168 337.16 L170.08 337.01 L172.15 336.85 L174.23 336.7 L176.3 336.54 L178.38 336.39 L180.45 336.23 L182.53 336.08 L184.6 335.93 L186.68 335.77 L188.75 335.62 L190.83 335.47 L192.91 335.32 L194.98 335.17 L197.06 335.02 L199.13 334.87 L201.21 334.72 L203.28 334.57 L205.36 334.42 L207.43 334.27 L209.51 334.12 L211.58 333.97 L213.66 333.82 L215.74 333.67 L217.81 333.52 L219.89 333.36 L221.96 333.21 L224.04 333.05 L226.11 332.89 L228.19 332.73 L230.26 332.57 L232.34 332.4 L234.42 332.23 L236.49 332.06 L238.57 331.89 L240.64 331.72 L242.72 331.55 L244.79 331.37 L246.87 331.2 L248.94 331.03 L251.02 330.86 L253.09 330.69 L255.17 330.52 L257.25 330.36 L259.32 330.2 L261.4 330.04 L263.47 329.88 L265.55 329.73 L267.62 329.59 L269.7 329.44 L271.77 329.3 L273.85 329.16 L275.92 329.02 L278 328.89 L280.08 328.75 L282.15 328.61 L284.23 328.48 L286.3 328.35 L288.38 328.22 L290.45 328.09 L292.53 327.97 L294.6 327.84 L296.68 327.72 L298.75 327.6 L300.83 327.48 L302.91 327.37 L304.98 327.25 L307.06 327.14 L309.13 327.04 L311.21 326.93 L313.28 326.83 L315.36 326.72 L317.43 326.62 L319.51 326.52 L321.58 326.42 L323.66 326.32 L325.74 326.22 L327.81 326.13 L329.89 326.03 L331.96 325.94 L334.04 325.85 L336.11 325.76 L338.19 325.67 L340.26 325.58 L342.34 325.5 L344.42 325.42 L346.49 325.34 L348.57 325.27 L350.64 325.2 L352.72 325.13 L354.79 325.06 L356.87 325 L358.94 324.94 L361.02 324.89 L363.09 324.83 L365.17 324.77 L367.25 324.72 L369.32 324.67 L371.4 324.62 L373.47 324.57 L375.55 324.53 L377.62 324.48 L379.7 324.44 L381.77 324.4 L383.85 324.37 L385.92 324.33 L388 324.3" fill="none" stroke="#0a0a0a" stroke-width="1.5" stroke-linejoin="round" />
<path d="M58 444.5 L60.08 443.62 L62.15 442.93 L64.23 442.36 L66.3 441.91 L68.38 441.52 L70.45 441.19 L72.53 440.87 L74.6 440.59 L76.68 440.32 L78.75 440.08 L80.83 439.86 L82.91 439.65 L84.98 439.45 L87.06 439.26 L89.13 439.08 L91.21 438.91 L93.28 438.75 L95.36 438.59 L97.43 438.44 L99.51 438.29 L101.58 438.15 L103.66 438.01 L105.74 437.87 L107.81 437.74 L109.89 437.61 L111.96 437.48 L114.04 437.35 L116.11 437.23 L118.19 437.11 L120.26 436.99 L122.34 436.87 L124.42 436.75 L126.49 436.63 L128.57 436.51 L130.64 436.39 L132.72 436.28 L134.79 436.16 L136.87 436.04 L138.94 435.93 L141.02 435.81 L143.09 435.69 L145.17 435.58 L147.25 435.47 L149.32 435.36 L151.4 435.25 L153.47 435.14 L155.55 435.03 L157.62 434.92 L159.7 434.81 L161.77 434.71 L163.85 434.6 L165.92 434.49 L168 434.39 L170.08 434.28 L172.15 434.17 L174.23 434.07 L176.3 433.96 L178.38 433.85 L180.45 433.74 L182.53 433.63 L184.6 433.52 L186.68 433.41 L188.75 433.3 L190.83 433.19 L192.91 433.07 L194.98 432.96 L197.06 432.84 L199.13 432.73 L201.21 432.62 L203.28 432.5 L205.36 432.39 L207.43 432.28 L209.51 432.17 L211.58 432.06 L213.66 431.95 L215.74 431.85 L217.81 431.74 L219.89 431.64 L221.96 431.54 L224.04 431.44 L226.11 431.34 L228.19 431.25 L230.26 431.16 L232.34 431.07 L234.42 430.98 L236.49 430.89 L238.57 430.81 L240.64 430.72 L242.72 430.64 L244.79 430.55 L246.87 430.47 L248.94 430.39 L251.02 430.31 L253.09 430.22 L255.17 430.14 L257.25 430.06 L259.32 429.98 L261.4 429.89 L263.47 429.81 L265.55 429.72 L267.62 429.64 L269.7 429.55 L271.77 429.46 L273.85 429.37 L275.92 429.27 L278 429.18 L280.08 429.09 L282.15 428.99 L284.23 428.89 L286.3 428.8 L288.38 428.7 L290.45 428.61 L292.53 428.51 L294.6 428.42 L296.68 428.32 L298.75 428.23 L300.83 428.14 L302.91 428.06 L304.98 427.97 L307.06 427.89 L309.13 427.81 L311.21 427.73 L313.28 427.66 L315.36 427.58 L317.43 427.51 L319.51 427.44 L321.58 427.37 L323.66 427.3 L325.74 427.23 L327.81 427.16 L329.89 427.1 L331.96 427.03 L334.04 426.97 L336.11 426.91 L338.19 426.84 L340.26 426.78 L342.34 426.73 L344.42 426.67 L346.49 426.61 L348.57 426.56 L350.64 426.51 L352.72 426.46 L354.79 426.41 L356.87 426.36 L358.94 426.32 L361.02 426.27 L363.09 426.23 L365.17 426.19 L367.25 426.15 L369.32 426.11 L371.4 426.07 L373.47 426.03 L375.55 425.99 L377.62 425.96 L379.7 425.92 L381.77 425.89 L383.85 425.86 L385.92 425.83 L388 425.8" fill="none" stroke="#0a0a0a" stroke-width="1.5" stroke-linejoin="round" />
<path d="M58 458 L60.08 457.97 L62.15 457.94 L64.23 457.89 L66.3 457.85 L68.38 457.8 L70.45 457.74 L72.53 457.68 L74.6 457.61 L76.68 457.53 L78.75 457.44 L80.83 457.35 L82.91 457.25 L84.98 457.14 L87.06 457.04 L89.13 456.93 L91.21 456.82 L93.28 456.72 L95.36 456.62 L97.43 456.52 L99.51 456.42 L101.58 456.32 L103.66 456.22 L105.74 456.11 L107.81 456.01 L109.89 455.91 L111.96 455.8 L114.04 455.7 L116.11 455.59 L118.19 455.48 L120.26 455.38 L122.34 455.27 L124.42 455.17 L126.49 455.06 L128.57 454.95 L130.64 454.85 L132.72 454.74 L134.79 454.64 L136.87 454.53 L138.94 454.43 L141.02 454.32 L143.09 454.22 L145.17 454.11 L147.25 454.01 L149.32 453.91 L151.4 453.8 L153.47 453.7 L155.55 453.59 L157.62 453.49 L159.7 453.38 L161.77 453.28 L163.85 453.18 L165.92 453.07 L168 452.97 L170.08 452.86 L172.15 452.76 L174.23 452.65 L176.3 452.55 L178.38 452.44 L180.45 452.34 L182.53 452.24 L184.6 452.13 L186.68 452.02 L188.75 451.92 L190.83 451.81 L192.91 451.7 L194.98 451.59 L197.06 451.49 L199.13 451.38 L201.21 451.27 L203.28 451.16 L205.36 451.06 L207.43 450.95 L209.51 450.85 L211.58 450.74 L213.66 450.64 L215.74 450.54 L217.81 450.44 L219.89 450.34 L221.96 450.24 L224.04 450.14 L226.11 450.05 L228.19 449.96 L230.26 449.86 L232.34 449.77 L234.42 449.68 L236.49 449.59 L238.57 449.5 L240.64 449.41 L242.72 449.32 L244.79 449.23 L246.87 449.14 L248.94 449.06 L251.02 448.97 L253.09 448.89 L255.17 448.8 L257.25 448.72 L259.32 448.64 L261.4 448.56 L263.47 448.49 L265.55 448.41 L267.62 448.34 L269.7 448.27 L271.77 448.2 L273.85 448.13 L275.92 448.06 L278 447.99 L280.08 447.92 L282.15 447.86 L284.23 447.79 L286.3 447.73 L288.38 447.66 L290.45 447.6 L292.53 447.54 L294.6 447.48 L296.68 447.42 L298.75 447.36 L300.83 447.3 L302.91 447.25 L304.98 447.19 L307.06 447.14 L309.13 447.08 L311.21 447.03 L313.28 446.98 L315.36 446.93 L317.43 446.88 L319.51 446.83 L321.58 446.78 L323.66 446.74 L325.74 446.69 L327.81 446.64 L329.89 446.6 L331.96 446.55 L334.04 446.51 L336.11 446.47 L338.19 446.42 L340.26 446.38 L342.34 446.34 L344.42 446.3 L346.49 446.26 L348.57 446.23 L350.64 446.19 L352.72 446.16 L354.79 446.12 L356.87 446.09 L358.94 446.06 L361.02 446.03 L363.09 446 L365.17 445.97 L367.25 445.94 L369.32 445.91 L371.4 445.88 L373.47 445.86 L375.55 445.83 L377.62 445.81 L379.7 445.78 L381.77 445.76 L383.85 445.74 L385.92 445.72 L388 445.7" fill="none" stroke="#0a0a0a" stroke-width="1.5" stroke-linejoin="round" />
<path d="M58 498.6 L60.08 498.58 L62.15 498.55 L64.23 498.51 L66.3 498.48 L68.38 498.43 L70.45 498.39 L72.53 498.34 L74.6 498.29 L76.68 498.22 L78.75 498.15 L80.83 498.08 L82.91 498 L84.98 497.91 L87.06 497.83 L89.13 497.74 L91.21 497.65 L93.28 497.57 L95.36 497.48 L97.43 497.39 L99.51 497.31 L101.58 497.21 L103.66 497.12 L105.74 497.03 L107.81 496.93 L109.89 496.84 L111.96 496.74 L114.04 496.64 L116.11 496.54 L118.19 496.45 L120.26 496.35 L122.34 496.25 L124.42 496.15 L126.49 496.05 L128.57 495.95 L130.64 495.85 L132.72 495.75 L134.79 495.65 L136.87 495.56 L138.94 495.46 L141.02 495.36 L143.09 495.27 L145.17 495.17 L147.25 495.07 L149.32 494.97 L151.4 494.87 L153.47 494.77 L155.55 494.67 L157.62 494.57 L159.7 494.47 L161.77 494.37 L163.85 494.27 L165.92 494.17 L168 494.08 L170.08 493.98 L172.15 493.89 L174.23 493.8 L176.3 493.71 L178.38 493.62 L180.45 493.54 L182.53 493.46 L184.6 493.38 L186.68 493.3 L188.75 493.22 L190.83 493.14 L192.91 493.07 L194.98 492.99 L197.06 492.92 L199.13 492.84 L201.21 492.77 L203.28 492.7 L205.36 492.63 L207.43 492.56 L209.51 492.49 L211.58 492.42 L213.66 492.35 L215.74 492.29 L217.81 492.22 L219.89 492.15 L221.96 492.08 L224.04 492.02 L226.11 491.95 L228.19 491.89 L230.26 491.82 L232.34 491.75 L234.42 491.69 L236.49 491.62 L238.57 491.56 L240.64 491.49 L242.72 491.43 L244.79 491.37 L246.87 491.3 L248.94 491.24 L251.02 491.18 L253.09 491.12 L255.17 491.06 L257.25 491 L259.32 490.94 L261.4 490.89 L263.47 490.83 L265.55 490.78 L267.62 490.73 L269.7 490.68 L271.77 490.63 L273.85 490.58 L275.92 490.53 L278 490.48 L280.08 490.43 L282.15 490.38 L284.23 490.34 L286.3 490.29 L288.38 490.25 L290.45 490.2 L292.53 490.16 L294.6 490.12 L296.68 490.07 L298.75 490.03 L300.83 489.99 L302.91 489.96 L304.98 489.92 L307.06 489.89 L309.13 489.85 L311.21 489.82 L313.28 489.79 L315.36 489.76 L317.43 489.73 L319.51 489.7 L321.58 489.68 L323.66 489.65 L325.74 489.63 L327.81 489.61 L329.89 489.58 L331.96 489.56 L334.04 489.54 L336.11 489.52 L338.19 489.5 L340.26 489.47 L342.34 489.45 L344.42 489.43 L346.49 489.41 L348.57 489.39 L350.64 489.36 L352.72 489.34 L354.79 489.32 L356.87 489.29 L358.94 489.27 L361.02 489.24 L363.09 489.22 L365.17 489.19 L367.25 489.17 L369.32 489.14 L371.4 489.11 L373.47 489.09 L375.55 489.06 L377.62 489.03 L379.7 489.01 L381.77 488.98 L383.85 488.95 L385.92 488.93 L388 488.9" fill="none" stroke="#0a0a0a" stroke-width="1.5" stroke-linejoin="round" />
<text x="241.5" y="324.1" text-anchor="middle" font-size="13.6" class="a">Plasma</text>
<text x="234.5" y="420.6" text-anchor="middle" font-size="13.6" class="a">RBC</text>
<text x="231.2" y="444.2" text-anchor="middle" font-size="13.6" class="a">ISF</text>
<text x="232.3" y="483.5" text-anchor="middle" font-size="13.6" class="a">PC</text>
<rect x="468.5" y="305.9" width="316.8" height="197.1" fill="none" stroke="#2a2a2a" stroke-width="1.1"/>
<path d="M500.18 503 v-3.4 M500.18 305.9 v3.4 M531.86 503 v-6 M531.86 305.9 v6 M563.54 503 v-3.4 M563.54 305.9 v3.4 M595.22 503 v-6 M595.22 305.9 v6 M626.9 503 v-3.4 M626.9 305.9 v3.4 M658.58 503 v-6 M658.58 305.9 v6 M690.26 503 v-3.4 M690.26 305.9 v3.4 M721.94 503 v-6 M721.94 305.9 v6 M753.62 503 v-3.4 M753.62 305.9 v3.4 M468.5 330.54 h3.4 M785.3 330.54 h-3.4 M468.5 355.17 h6 M785.3 355.17 h-6 M468.5 379.81 h3.4 M785.3 379.81 h-3.4 M468.5 404.45 h6 M785.3 404.45 h-6 M468.5 429.09 h3.4 M785.3 429.09 h-3.4 M468.5 453.73 h6 M785.3 453.73 h-6 M468.5 478.36 h3.4 M785.3 478.36 h-3.4" fill="none" stroke="#2a2a2a" stroke-width="1.1"/>
<text transform="translate(468.5 522.6) scale(1.09 1)" text-anchor="middle" font-size="14.4" >0</text>
<text transform="translate(531.86 522.6) scale(1.09 1)" text-anchor="middle" font-size="14.4" >0.02</text>
<text transform="translate(595.22 522.6) scale(1.09 1)" text-anchor="middle" font-size="14.4" >0.04</text>
<text transform="translate(658.58 522.6) scale(1.09 1)" text-anchor="middle" font-size="14.4" >0.06</text>
<text transform="translate(721.94 522.6) scale(1.09 1)" text-anchor="middle" font-size="14.4" >0.08</text>
<text transform="translate(785.3 522.6) scale(1.09 1)" text-anchor="middle" font-size="14.4" >0.1</text>
<text transform="translate(457.8 311.1) scale(1.05 1)" text-anchor="end" font-size="14.5" >7.45</text>
<text transform="translate(457.8 360.37) scale(1.05 1)" text-anchor="end" font-size="14.5" >7.35</text>
<text transform="translate(457.8 409.65) scale(1.05 1)" text-anchor="end" font-size="14.5" >7.25</text>
<text transform="translate(457.8 458.93) scale(1.05 1)" text-anchor="end" font-size="14.5" >7.15</text>
<text transform="translate(457.8 508.2) scale(1.05 1)" text-anchor="end" font-size="14.5" >7.05</text>
<text transform="translate(628.5 288.6) scale(1.13 1)" text-anchor="middle" font-size="14.4" >Axial Profile of pH</text>
<text transform="translate(627 543.5) scale(1.155 1)" text-anchor="middle" font-size="14.1" >x,&#160; cm</text>
<text transform="translate(411.3 404.7) rotate(-90)" text-anchor="middle" font-size="15.0">pH</text>
<path d="M468.8 329.8 L470.79 330.9 L472.78 331.86 L474.77 332.72 L476.75 333.49 L478.74 334.2 L480.73 334.82 L482.72 335.37 L484.71 335.84 L486.7 336.23 L488.69 336.57 L490.68 336.88 L492.66 337.16 L494.65 337.41 L496.64 337.65 L498.63 337.87 L500.62 338.09 L502.61 338.29 L504.6 338.48 L506.58 338.67 L508.57 338.84 L510.56 339.01 L512.55 339.17 L514.54 339.32 L516.53 339.47 L518.52 339.61 L520.51 339.74 L522.49 339.87 L524.48 340 L526.47 340.11 L528.46 340.23 L530.45 340.34 L532.44 340.45 L534.43 340.55 L536.42 340.65 L538.4 340.74 L540.39 340.84 L542.38 340.93 L544.37 341.02 L546.36 341.1 L548.35 341.19 L550.34 341.27 L552.32 341.35 L554.31 341.43 L556.3 341.51 L558.29 341.58 L560.28 341.66 L562.27 341.73 L564.26 341.81 L566.25 341.88 L568.23 341.95 L570.22 342.02 L572.21 342.09 L574.2 342.16 L576.19 342.23 L578.18 342.29 L580.17 342.36 L582.15 342.43 L584.14 342.5 L586.13 342.57 L588.12 342.63 L590.11 342.7 L592.1 342.77 L594.09 342.83 L596.08 342.9 L598.06 342.96 L600.05 343.03 L602.04 343.09 L604.03 343.15 L606.02 343.21 L608.01 343.27 L610 343.33 L611.98 343.39 L613.97 343.45 L615.96 343.51 L617.95 343.56 L619.94 343.62 L621.93 343.67 L623.92 343.72 L625.91 343.77 L627.89 343.82 L629.88 343.87 L631.87 343.92 L633.86 343.97 L635.85 344.01 L637.84 344.06 L639.83 344.1 L641.82 344.15 L643.8 344.19 L645.79 344.23 L647.78 344.28 L649.77 344.32 L651.76 344.36 L653.75 344.4 L655.74 344.44 L657.72 344.48 L659.71 344.52 L661.7 344.56 L663.69 344.6 L665.68 344.64 L667.67 344.68 L669.66 344.72 L671.65 344.76 L673.63 344.8 L675.62 344.84 L677.61 344.88 L679.6 344.92 L681.59 344.96 L683.58 345 L685.57 345.04 L687.55 345.08 L689.54 345.12 L691.53 345.16 L693.52 345.2 L695.51 345.23 L697.5 345.27 L699.49 345.31 L701.48 345.34 L703.46 345.37 L705.45 345.4 L707.44 345.43 L709.43 345.46 L711.42 345.49 L713.41 345.51 L715.4 345.53 L717.38 345.56 L719.37 345.58 L721.36 345.6 L723.35 345.63 L725.34 345.65 L727.33 345.67 L729.32 345.69 L731.31 345.71 L733.29 345.73 L735.28 345.75 L737.27 345.77 L739.26 345.78 L741.25 345.8 L743.24 345.82 L745.23 345.83 L747.22 345.85 L749.2 345.86 L751.19 345.87 L753.18 345.88 L755.17 345.89 L757.16 345.9 L759.15 345.91 L761.14 345.92 L763.12 345.93 L765.11 345.94 L767.1 345.95 L769.09 345.96 L771.08 345.96 L773.07 345.97 L775.06 345.98 L777.05 345.98 L779.03 345.99 L781.02 345.99 L783.01 346 L785 346" fill="none" stroke="#0a0a0a" stroke-width="1.5" stroke-linejoin="round" />
<path d="M468.8 410.2 L470.79 411.03 L472.78 411.79 L474.77 412.5 L476.75 413.17 L478.74 413.83 L480.73 414.4 L482.72 414.9 L484.71 415.34 L486.7 415.72 L488.69 416.08 L490.68 416.39 L492.66 416.67 L494.65 416.9 L496.64 417.11 L498.63 417.31 L500.62 417.49 L502.61 417.66 L504.6 417.82 L506.58 417.97 L508.57 418.11 L510.56 418.25 L512.55 418.39 L514.54 418.53 L516.53 418.66 L518.52 418.8 L520.51 418.93 L522.49 419.06 L524.48 419.18 L526.47 419.3 L528.46 419.42 L530.45 419.53 L532.44 419.64 L534.43 419.75 L536.42 419.85 L538.4 419.94 L540.39 420.04 L542.38 420.13 L544.37 420.22 L546.36 420.3 L548.35 420.39 L550.34 420.47 L552.32 420.55 L554.31 420.63 L556.3 420.71 L558.29 420.79 L560.28 420.86 L562.27 420.94 L564.26 421.01 L566.25 421.08 L568.23 421.15 L570.22 421.22 L572.21 421.29 L574.2 421.36 L576.19 421.43 L578.18 421.5 L580.17 421.56 L582.15 421.63 L584.14 421.7 L586.13 421.76 L588.12 421.83 L590.11 421.89 L592.1 421.96 L594.09 422.02 L596.08 422.08 L598.06 422.15 L600.05 422.21 L602.04 422.27 L604.03 422.33 L606.02 422.39 L608.01 422.45 L610 422.5 L611.98 422.56 L613.97 422.61 L615.96 422.67 L617.95 422.72 L619.94 422.77 L621.93 422.82 L623.92 422.87 L625.91 422.92 L627.89 422.97 L629.88 423.01 L631.87 423.06 L633.86 423.1 L635.85 423.15 L637.84 423.19 L639.83 423.23 L641.82 423.27 L643.8 423.31 L645.79 423.35 L647.78 423.39 L649.77 423.43 L651.76 423.47 L653.75 423.5 L655.74 423.54 L657.72 423.58 L659.71 423.62 L661.7 423.66 L663.69 423.7 L665.68 423.74 L667.67 423.78 L669.66 423.82 L671.65 423.86 L673.63 423.9 L675.62 423.95 L677.61 423.99 L679.6 424.04 L681.59 424.08 L683.58 424.12 L685.57 424.17 L687.55 424.21 L689.54 424.26 L691.53 424.3 L693.52 424.35 L695.51 424.39 L697.5 424.43 L699.49 424.47 L701.48 424.51 L703.46 424.55 L705.45 424.58 L707.44 424.62 L709.43 424.65 L711.42 424.68 L713.41 424.71 L715.4 424.74 L717.38 424.77 L719.37 424.8 L721.36 424.82 L723.35 424.85 L725.34 424.87 L727.33 424.89 L729.32 424.92 L731.31 424.94 L733.29 424.96 L735.28 424.98 L737.27 425 L739.26 425.02 L741.25 425.04 L743.24 425.06 L745.23 425.08 L747.22 425.1 L749.2 425.13 L751.19 425.15 L753.18 425.17 L755.17 425.19 L757.16 425.21 L759.15 425.23 L761.14 425.25 L763.12 425.27 L765.11 425.3 L767.1 425.32 L769.09 425.34 L771.08 425.36 L773.07 425.38 L775.06 425.4 L777.05 425.42 L779.03 425.44 L781.02 425.46 L783.01 425.48 L785 425.5" fill="none" stroke="#0a0a0a" stroke-width="1.5" stroke-linejoin="round" />
<path d="M468.8 436.1 L470.79 436.21 L472.78 436.32 L474.77 436.44 L476.75 436.54 L478.74 436.65 L480.73 436.76 L482.72 436.86 L484.71 436.96 L486.7 437.06 L488.69 437.16 L490.68 437.26 L492.66 437.35 L494.65 437.44 L496.64 437.53 L498.63 437.61 L500.62 437.7 L502.61 437.78 L504.6 437.86 L506.58 437.94 L508.57 438.01 L510.56 438.09 L512.55 438.16 L514.54 438.24 L516.53 438.31 L518.52 438.38 L520.51 438.46 L522.49 438.53 L524.48 438.6 L526.47 438.68 L528.46 438.75 L530.45 438.83 L532.44 438.9 L534.43 438.98 L536.42 439.06 L538.4 439.14 L540.39 439.22 L542.38 439.3 L544.37 439.38 L546.36 439.47 L548.35 439.55 L550.34 439.64 L552.32 439.72 L554.31 439.81 L556.3 439.9 L558.29 439.98 L560.28 440.07 L562.27 440.15 L564.26 440.24 L566.25 440.32 L568.23 440.4 L570.22 440.48 L572.21 440.56 L574.2 440.64 L576.19 440.72 L578.18 440.79 L580.17 440.86 L582.15 440.93 L584.14 441 L586.13 441.07 L588.12 441.13 L590.11 441.2 L592.1 441.26 L594.09 441.33 L596.08 441.39 L598.06 441.45 L600.05 441.51 L602.04 441.57 L604.03 441.63 L606.02 441.69 L608.01 441.75 L610 441.81 L611.98 441.86 L613.97 441.92 L615.96 441.97 L617.95 442.02 L619.94 442.07 L621.93 442.12 L623.92 442.17 L625.91 442.22 L627.89 442.27 L629.88 442.32 L631.87 442.36 L633.86 442.41 L635.85 442.45 L637.84 442.49 L639.83 442.53 L641.82 442.57 L643.8 442.62 L645.79 442.66 L647.78 442.7 L649.77 442.73 L651.76 442.77 L653.75 442.81 L655.74 442.85 L657.72 442.89 L659.71 442.93 L661.7 442.96 L663.69 443 L665.68 443.04 L667.67 443.08 L669.66 443.12 L671.65 443.16 L673.63 443.19 L675.62 443.23 L677.61 443.27 L679.6 443.31 L681.59 443.35 L683.58 443.39 L685.57 443.42 L687.55 443.46 L689.54 443.5 L691.53 443.54 L693.52 443.57 L695.51 443.61 L697.5 443.65 L699.49 443.68 L701.48 443.72 L703.46 443.75 L705.45 443.79 L707.44 443.82 L709.43 443.85 L711.42 443.88 L713.41 443.91 L715.4 443.95 L717.38 443.98 L719.37 444.01 L721.36 444.04 L723.35 444.06 L725.34 444.09 L727.33 444.12 L729.32 444.15 L731.31 444.18 L733.29 444.21 L735.28 444.23 L737.27 444.26 L739.26 444.29 L741.25 444.31 L743.24 444.34 L745.23 444.37 L747.22 444.39 L749.2 444.42 L751.19 444.44 L753.18 444.46 L755.17 444.49 L757.16 444.51 L759.15 444.53 L761.14 444.56 L763.12 444.58 L765.11 444.6 L767.1 444.62 L769.09 444.64 L771.08 444.66 L773.07 444.68 L775.06 444.7 L777.05 444.72 L779.03 444.74 L781.02 444.76 L783.01 444.78 L785 444.8" fill="none" stroke="#0a0a0a" stroke-width="1.5" stroke-linejoin="round" />
<path d="M468.8 486.8 L470.79 486.86 L472.78 486.92 L474.77 486.98 L476.75 487.04 L478.74 487.1 L480.73 487.16 L482.72 487.23 L484.71 487.29 L486.7 487.36 L488.69 487.42 L490.68 487.49 L492.66 487.56 L494.65 487.63 L496.64 487.71 L498.63 487.78 L500.62 487.86 L502.61 487.93 L504.6 488.01 L506.58 488.09 L508.57 488.17 L510.56 488.26 L512.55 488.34 L514.54 488.42 L516.53 488.51 L518.52 488.59 L520.51 488.68 L522.49 488.76 L524.48 488.85 L526.47 488.93 L528.46 489.02 L530.45 489.1 L532.44 489.19 L534.43 489.27 L536.42 489.36 L538.4 489.44 L540.39 489.52 L542.38 489.6 L544.37 489.69 L546.36 489.77 L548.35 489.86 L550.34 489.94 L552.32 490.03 L554.31 490.11 L556.3 490.2 L558.29 490.28 L560.28 490.37 L562.27 490.45 L564.26 490.53 L566.25 490.62 L568.23 490.7 L570.22 490.78 L572.21 490.86 L574.2 490.94 L576.19 491.01 L578.18 491.09 L580.17 491.16 L582.15 491.23 L584.14 491.3 L586.13 491.37 L588.12 491.44 L590.11 491.51 L592.1 491.58 L594.09 491.64 L596.08 491.71 L598.06 491.77 L600.05 491.84 L602.04 491.9 L604.03 491.96 L606.02 492.03 L608.01 492.09 L610 492.15 L611.98 492.21 L613.97 492.27 L615.96 492.33 L617.95 492.39 L619.94 492.45 L621.93 492.51 L623.92 492.57 L625.91 492.63 L627.89 492.69 L629.88 492.74 L631.87 492.8 L633.86 492.86 L635.85 492.92 L637.84 492.98 L639.83 493.03 L641.82 493.09 L643.8 493.15 L645.79 493.2 L647.78 493.26 L649.77 493.31 L651.76 493.37 L653.75 493.42 L655.74 493.47 L657.72 493.53 L659.71 493.58 L661.7 493.63 L663.69 493.68 L665.68 493.73 L667.67 493.77 L669.66 493.82 L671.65 493.87 L673.63 493.91 L675.62 493.96 L677.61 494.01 L679.6 494.05 L681.59 494.1 L683.58 494.14 L685.57 494.19 L687.55 494.23 L689.54 494.28 L691.53 494.32 L693.52 494.36 L695.51 494.4 L697.5 494.44 L699.49 494.48 L701.48 494.52 L703.46 494.55 L705.45 494.59 L707.44 494.62 L709.43 494.65 L711.42 494.68 L713.41 494.71 L715.4 494.74 L717.38 494.77 L719.37 494.79 L721.36 494.82 L723.35 494.84 L725.34 494.86 L727.33 494.89 L729.32 494.91 L731.31 494.93 L733.29 494.95 L735.28 494.97 L737.27 494.99 L739.26 495.01 L741.25 495.03 L743.24 495.05 L745.23 495.07 L747.22 495.09 L749.2 495.12 L751.19 495.14 L753.18 495.16 L755.17 495.19 L757.16 495.21 L759.15 495.24 L761.14 495.26 L763.12 495.29 L765.11 495.32 L767.1 495.34 L769.09 495.37 L771.08 495.4 L773.07 495.43 L775.06 495.45 L777.05 495.48 L779.03 495.51 L781.02 495.54 L783.01 495.57 L785 495.6" fill="none" stroke="#0a0a0a" stroke-width="1.5" stroke-linejoin="round" />
<text x="628.5" y="332.2" text-anchor="middle" font-size="13.6" class="a">Plasma</text>
<text x="622.5" y="413.3" text-anchor="middle" font-size="13.6" class="a">RBC</text>
<text x="619.5" y="436.7" text-anchor="middle" font-size="13.6" class="a">ISF</text>
<text x="621.5" y="485" text-anchor="middle" font-size="13.6" class="a">PC</text>
</svg>
</body>
</html>
